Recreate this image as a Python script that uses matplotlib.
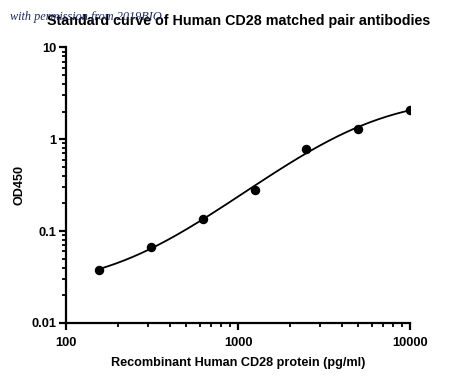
import numpy as np
import matplotlib
matplotlib.use("Agg")
import matplotlib.pyplot as plt
from matplotlib.ticker import LogLocator, FixedLocator, NullFormatter

# Data
conc = [156.25, 312.5, 625, 1250, 2500, 5000, 10000]
od450 = [0.038, 0.067, 0.137, 0.281, 0.785, 1.30, 2.08]
x_ticks = [100, 1000, 10000]
x_tick_labels = ["100", "1000", "10000"]
y_ticks = [0.01, 0.1, 1, 10]
y_tick_labels = ["0.01", "0.1", "1", "10"]

title = "Standard curve of Human CD28 matched pair antibodies"
xlabel = "Recombinant Human CD28 protein (pg/ml)"
ylabel = "OD450"
watermark = "with permission from 2019BIO"

x = np.array(conc, dtype=float)
y = np.array(od450, dtype=float)

# 4-parameter logistic fit (Levenberg-Marquardt, log-residuals)
def f4(p, xx):
    a, d, lc, b = p
    return d + (a - d) / (1.0 + (xx / np.exp(lc)) ** b)

def resid(p):
    v = f4(p, x)
    v = np.where(v > 1e-6, v, 1e-6)
    return np.log(v) - np.log(y)

p = np.array([0.02, 3.0, np.log(2000.0), 1.3])
lam = 1e-2
for _ in range(500):
    r = resid(p)
    J = np.zeros((len(x), 4))
    for i in range(4):
        dp = np.zeros(4); dp[i] = 1e-6 * max(1.0, abs(p[i]))
        J[:, i] = (resid(p + dp) - r) / dp[i]
    A = J.T @ J
    g = J.T @ r
    step = np.linalg.solve(A + lam * np.diag(np.diag(A) + 1e-12), -g)
    pn = p + step
    if np.sum(resid(pn) ** 2) < np.sum(r ** 2):
        p = pn; lam *= 0.5
    else:
        lam *= 4
xf = np.logspace(np.log10(x.min()), np.log10(x.max()), 300)
yf = f4(p, xf)

fig = plt.figure(figsize=(4.5, 3.83), dpi=100)
ax = fig.add_axes([0.1467, 0.1567, 0.7644, 0.7198])
ax.set_xscale("log")
ax.set_yscale("log")
ax.set_xlim(100, 10000)
ax.set_ylim(0.01, 10)

ax.plot(xf, yf, color="black", lw=1.3, zorder=2)
ax.plot(x, y, "o", color="black", ms=5.8, zorder=3)

for s in ["top", "right"]:
    ax.spines[s].set_visible(False)
for s in ["left", "bottom"]:
    ax.spines[s].set_linewidth(1.6)

ax.xaxis.set_major_locator(FixedLocator(x_ticks))
ax.set_xticklabels(x_tick_labels)
ax.yaxis.set_major_locator(FixedLocator(y_ticks))
ax.set_yticklabels(y_tick_labels)
ax.xaxis.set_minor_locator(LogLocator(base=10, subs=np.arange(2, 10)))
ax.yaxis.set_minor_locator(LogLocator(base=10, subs=np.arange(2, 10)))
ax.xaxis.set_minor_formatter(NullFormatter())
ax.yaxis.set_minor_formatter(NullFormatter())
ax.tick_params(which="major", length=5, width=1.6, direction="out")
ax.tick_params(axis="x", which="major", pad=5)
ax.tick_params(axis="y", which="major", pad=2)
ax.tick_params(which="minor", length=3, width=1.3, direction="out")
for lab in ax.get_xticklabels() + ax.get_yticklabels():
    lab.set_fontfamily("Liberation Sans")
    lab.set_fontweight("bold")
    lab.set_fontsize(9.3)

ax.set_xlabel(xlabel, fontfamily="Liberation Sans", fontweight="bold", fontsize=9.1, labelpad=6)
ax.set_ylabel(ylabel, fontfamily="Liberation Sans", fontweight="bold", fontsize=9.1, labelpad=4)

fig.text(0.531, 0.935, title, ha="center", va="baseline", fontfamily="Liberation Sans",
         fontweight="bold", fontsize=10.3)
fig.text(0.022, 0.948, watermark, ha="left", va="baseline", fontfamily="Liberation Serif",
         style="italic", fontsize=8.8, color="#1c2a6b")

fig.savefig("out.png", dpi=100)
